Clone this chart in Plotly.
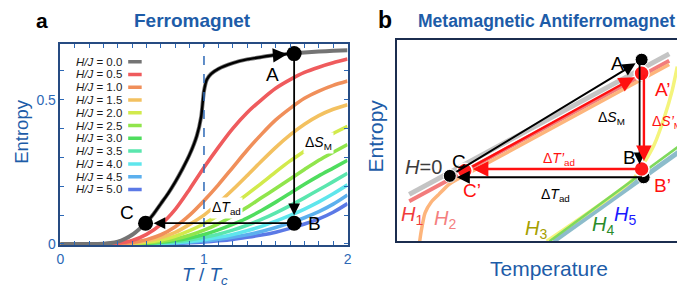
import plotly.graph_objects as go

FONT = "Liberation Sans, Arial, sans-serif"
W, H = 685, 289
BLUE = "#1d5ca8"
TICKBLUE = "#2c68b6"

# ---------------- Panel a: Ferromagnet ----------------
T_H0 = [0, 0.2, 0.3, 0.35, 0.4, 0.45, 0.5, 0.55, 0.6, 0.65,
        0.7, 0.75, 0.8, 0.85, 0.9, 0.95, 0.98, 1.0, 1.02, 1.05,
        1.1, 1.2, 1.3, 1.4, 1.5, 1.6, 1.7, 1.8, 1.9, 2.0]
S_H0 = [0, 0, 0.001, 0.003, 0.008, 0.018, 0.032, 0.052, 0.075, 0.105,
        0.14, 0.175, 0.215, 0.26, 0.31, 0.375, 0.44, 0.53, 0.57, 0.59,
        0.607, 0.627, 0.64, 0.648, 0.655, 0.66, 0.664, 0.667, 0.67, 0.672]

T_GRID = [0, 0.2, 0.3, 0.4, 0.5, 0.6, 0.7, 0.8, 0.9, 1.0,
          1.1, 1.2, 1.3, 1.4, 1.5, 1.6, 1.7, 1.8, 1.9, 2.0]
S_H05 = [0, 0, 0.0, 0.003, 0.012, 0.033, 0.068, 0.12, 0.19, 0.265,
         0.335, 0.4, 0.455, 0.5, 0.54, 0.57, 0.595, 0.613, 0.628, 0.641]
S_H10 = [0, 0, 0, 0.001, 0.005, 0.015, 0.032, 0.06, 0.1, 0.15,
         0.205, 0.265, 0.325, 0.38, 0.43, 0.47, 0.505, 0.53, 0.55, 0.565]
S_H15 = [0, 0, 0, 0, 0.003, 0.01, 0.022, 0.04, 0.068, 0.1,
         0.142, 0.188, 0.237, 0.287, 0.335, 0.378, 0.415, 0.445, 0.467, 0.483]
S_H20 = [0, 0, 0, 0, 0.002, 0.006, 0.014, 0.027, 0.046, 0.07,
         0.1, 0.135, 0.172, 0.21, 0.25, 0.288, 0.322, 0.355, 0.383, 0.408]
S_H25 = [0, 0, 0, 0, 0.001, 0.004, 0.009, 0.017, 0.03, 0.048,
         0.07, 0.097, 0.127, 0.16, 0.192, 0.225, 0.258, 0.29, 0.318, 0.345]
S_H30 = [0, 0, 0, 0, 0, 0.002, 0.006, 0.012, 0.021, 0.033,
         0.049, 0.068, 0.09, 0.116, 0.145, 0.176, 0.207, 0.236, 0.263, 0.29]
S_H35 = [0, 0, 0, 0, 0, 0.001, 0.004, 0.008, 0.014, 0.023,
         0.034, 0.048, 0.065, 0.085, 0.108, 0.133, 0.16, 0.188, 0.216, 0.245]
S_H40 = [0, 0, 0, 0, 0, 0, 0.002, 0.005, 0.009, 0.015,
         0.023, 0.033, 0.046, 0.061, 0.079, 0.099, 0.121, 0.146, 0.174, 0.205]
S_H45 = [0, 0, 0, 0, 0, 0, 0.001, 0.003, 0.006, 0.01,
         0.016, 0.023, 0.032, 0.043, 0.057, 0.073, 0.091, 0.112, 0.138, 0.17]
S_H50 = [0, 0, 0, 0, 0, 0, 0.001, 0.002, 0.004, 0.007,
         0.011, 0.016, 0.023, 0.031, 0.041, 0.054, 0.069, 0.087, 0.11, 0.14]

H_LABELS = ["0.0", "0.5", "1.0", "1.5", "2.0", "2.5", "3.0", "3.5", "4.0", "4.5", "5.0"]
H_COLORS = ["#747474", "#ef5b5d", "#f08f5a", "#f3c160", "#d2ea4c", "#90e54c",
            "#4fdd5e", "#5ae6ae", "#5fe6ec", "#5cb0ee", "#5b79e6"]
FIELD_CURVES = [S_H05, S_H10, S_H15, S_H20, S_H25, S_H30, S_H35, S_H40, S_H45, S_H50]

T_C = 1.0
CYCLE_NAMES = ["A", "B", "C"]
CYCLE_T = [1.628, 1.628, 0.593]
CYCLE_S = [0.660, 0.072, 0.072]

# ---------------- Panel b: Metamagnetic antiferromagnet (schematic units) ----------------
B_H0_X = [4.1, 94.5]
B_H0_Y = [23.3, 93.2]
B_H1_X = [4.1, 94.5]
B_H1_Y = [19.9, 89.8]
B_H2_X = [7.6, 8.3, 9.6, 11.7, 14.4, 18.2, 27.5, 94.5]
B_H2_Y = [-1.5, 5.3, 14.1, 19.4, 23.3, 28.6, 35.9, 87.9]
B_H3_X = [51.9, 81.8, 85.9, 89.3, 92.8, 95.5, 97.3]
B_H3_Y = [0.0, 30.6, 39.3, 48.1, 61.7, 74.8, 86.9]
B_H4_X = [52.9, 100.0]
B_H4_Y = [0.0, 49.5]
B_H5_X = [54.3, 100.0]
B_H5_Y = [0.0, 46.6]

B_BLACK_NAMES = ["A", "B", "C"]
B_BLACK_X = [84.9, 85.6, 18.2]
B_BLACK_Y = [90.3, 31.8, 32.5]
B_RED_NAMES = ["A’", "B’", "C’"]
B_RED_X = [84.9, 84.9, 23.4]
B_RED_Y = [83.5, 35.9, 35.0]

fig = go.Figure()

# ---- panel a curves ----
for S, col in reversed(list(zip(FIELD_CURVES, H_COLORS[1:]))):
    fig.add_trace(go.Scatter(x=T_GRID, y=S, mode="lines",
                             line=dict(color=col, width=3.6, shape="spline", smoothing=0.8),
                             xaxis="x", yaxis="y", showlegend=False, hoverinfo="skip"))
fig.add_trace(go.Scatter(x=T_H0, y=S_H0, mode="lines",
                         line=dict(color=H_COLORS[0], width=4, shape="spline", smoothing=0.6),
                         xaxis="x", yaxis="y", showlegend=False, hoverinfo="skip"))

# cycle path C -> A along H=0 curve
tA, tB, tC = CYCLE_T
sA, sB, sC = CYCLE_S
path_T = [tC] + [t for t in T_H0 if tC < t < tA] + [tA]
path_S = [sC] + [s for t, s in zip(T_H0, S_H0) if tC < t < tA] + [sA]
fig.add_trace(go.Scatter(x=path_T, y=path_S, mode="lines",
                         line=dict(color="black", width=2.4, shape="spline", smoothing=0.6),
                         xaxis="x", yaxis="y", showlegend=False, hoverinfo="skip"))
fig.add_trace(go.Scatter(x=CYCLE_T, y=CYCLE_S, mode="markers",
                         marker=dict(color="black", size=15),
                         xaxis="x", yaxis="y", showlegend=False, hoverinfo="skip"))

# ---- panel b curves ----
b_curves = [
    (B_H5_X, B_H5_Y, "#8dbccb", 5),
    (B_H3_X, B_H3_Y, "#f4f47c", 3.5),
    (B_H4_X, B_H4_Y, "#7fd95c", 2.5),
    (B_H0_X, B_H0_Y, "#c4c4c4", 5),
    (B_H1_X, B_H1_Y, "#f27c7c", 4),
    (B_H2_X, B_H2_Y, "#fdb57c", 3.5),
]
for xs, ys, col, w in b_curves:
    fig.add_trace(go.Scatter(x=xs, y=ys, mode="lines",
                             line=dict(color=col, width=w, shape="spline", smoothing=0.6),
                             xaxis="x2", yaxis="y2", showlegend=False, hoverinfo="skip"))
fig.add_trace(go.Scatter(x=B_BLACK_X, y=B_BLACK_Y, mode="markers",
                         marker=dict(color="black", size=13, line=dict(color="white", width=1)),
                         xaxis="x2", yaxis="y2", showlegend=False, hoverinfo="skip"))
fig.add_trace(go.Scatter(x=B_RED_X, y=B_RED_Y, mode="markers",
                         marker=dict(color="#ff1a1a", size=15, line=dict(color="white", width=1.5)),
                         xaxis="x2", yaxis="y2", showlegend=False, hoverinfo="skip"))

# ---------------- annotations ----------------
ann = []


def text_paper(t, xp, yp, size, color, angle=0, bold=False):
    if bold:
        t = "<b>" + t + "</b>"
    ann.append(dict(text=t, x=xp / W, y=1 - yp / H, xref="paper", yref="paper",
                    showarrow=False, textangle=angle, xanchor="center", yanchor="middle",
                    font=dict(family=FONT, size=size, color=color)))


def text_data(t, x, y, xr, yr, size, color, bg=None, anchor="center"):
    d = dict(text=t, x=x, y=y, xref=xr, yref=yr, showarrow=False,
             xanchor=anchor, yanchor="middle", font=dict(family=FONT, size=size, color=color))
    if bg:
        d.update(bgcolor=bg, borderpad=1)
    ann.append(d)


def arrow(x, y, ax, ay, xr, yr, color, width, standoff=0, startstandoff=0, size=1.3):
    ann.append(dict(text="", x=x, y=y, ax=ax, ay=ay, xref=xr, yref=yr, axref=xr, ayref=yr,
                    showarrow=True, arrowhead=2, arrowsize=size, arrowwidth=width,
                    arrowcolor=color, standoff=standoff, startstandoff=startstandoff))


# titles
text_paper("a", 30, 13, 21, "black", bold=True)
text_paper("Ferromagnet", 183, 13, 19, BLUE, bold=True)
text_paper("b", 377, 12, 23, "black", bold=True)
text_paper("Metamagnetic Antiferromagnet", 541, 13, 17.5, BLUE, bold=True)
text_paper("Entropy", 10, 126, 18.5, BLUE, angle=-90)
text_paper("<i>T</i> / <i>T</i><sub><i>c</i></sub>", 195, 275, 19, BLUE)
text_paper("Entropy", 368, 131, 21, BLUE, angle=-90)
text_paper("Temperature", 543, 267, 21, BLUE)

# panel a legend (text right-aligned, sample line to the right)
LEG_X_TEXT, LEG_X0, LEG_X1 = 0.442, 0.472, 0.566
LEG_Y0, LEG_DY = 0.632, 0.0443
shapes = []
for i, (lab, col) in enumerate(zip(H_LABELS, H_COLORS)):
    yy = LEG_Y0 - i * LEG_DY
    text_data("<i>H/J</i> = " + lab, LEG_X_TEXT, yy, "x", "y", 11.5, "#1a1a1a", anchor="right")
    shapes.append(dict(type="line", xref="x", yref="y", x0=LEG_X0, x1=LEG_X1, y0=yy, y1=yy,
                       line=dict(color=col, width=3.5)))

# T_c dashed line
shapes.append(dict(type="line", xref="x", yref="y domain", x0=T_C, x1=T_C, y0=0, y1=1,
                   line=dict(color=TICKBLUE, width=1.5, dash="dash")))

# panel a arrows
arrow(tA, sA, path_T[-3], path_S[-3], "x", "y", "black", 2.2, standoff=7)
arrow(tB, sB, tA, sA, "x", "y", "black", 1.8, standoff=8)
arrow(tC, sC, tB, sB, "x", "y", "black", 1.8, standoff=8)
text_data("A", 1.476, 0.589, "x", "y", 19, "black")
text_data("B", 1.77, 0.071, "x", "y", 19, "black")
text_data("C", 0.465, 0.11, "x", "y", 19, "black")
text_data("Δ<i>S</i><sub>M</sub>", 1.8, 0.35, "x", "y", 14, "black", bg="white")
text_data("Δ<i>T</i><sub>ad</sub>", 1.16, 0.125, "x", "y", 14, "black", bg="white")

# panel b arrows
aX, bX, cX = B_BLACK_X
aY, bY, cY = B_BLACK_Y
apX, bpX, cpX = B_RED_X
apY, bpY, cpY = B_RED_Y
arrow(aX, aY, cX, cY, "x2", "y2", "black", 2, standoff=7, startstandoff=6)
arrow(apX, apY, cpX, cpY, "x2", "y2", "#ff1010", 2.4, standoff=8, startstandoff=7)
arrow(aX - 0.7, bY + 6.5, aX - 0.7, aY, "x2", "y2", "black", 1.8, standoff=0)
arrow(apX + 0.8, bpY + 1.5, apX + 0.8, apY, "x2", "y2", "#ff1010", 2.4, standoff=5)
arrow(cpX, bpY, bpX, bpY, "x2", "y2", "#ff1010", 2.4, standoff=8)
arrow(cX, bY, bX, bY, "x2", "y2", "black", 2, standoff=7)

text_data("A", 76.6, 88.3, "x2", "y2", 19, "black")
text_data("A’", 92.2, 75.7, "x2", "y2", 19, "#ff1010")
text_data("B", 80.8, 41.7, "x2", "y2", 19, "black")
text_data("B’", 92.2, 27.7, "x2", "y2", 19, "#ff1010")
text_data("C", 21.3, 39.8, "x2", "y2", 19, "black")
text_data("C’", 26.0, 25.2, "x2", "y2", 19, "#ff1010")
text_data("Δ<i>S</i><sub>M</sub>", 74.6, 61.2, "x2", "y2", 14, "black")
text_data("Δ<i>S’</i><sub>M</sub>", 99.6, 59.2, "x2", "y2", 14, "#ff1010", anchor="right")
text_data("Δ<i>T’</i><sub>ad</sub>", 56.0, 40.8, "x2", "y2", 14, "#ff1010")
text_data("Δ<i>T</i><sub>ad</sub>", 55.0, 22.8, "x2", "y2", 14, "black")
text_data("<i>H</i>=0", 9.0, 36.9, "x2", "y2", 20, "#3c3c3c")
text_data("<i>H</i><sub>1</sub>", 5.2, 12.6, "x2", "y2", 20, "#f03c3c")
text_data("<i>H</i><sub>2</sub>", 16.5, 10.7, "x2", "y2", 20, "#f48080")
text_data("<i>H</i><sub>3</sub>", 48.3, 5.8, "x2", "y2", 20, "#a6a000")
text_data("<i>H</i><sub>4</sub>", 71.3, 7.8, "x2", "y2", 20, "#2a8c2a")
text_data("<i>H</i><sub>5</sub>", 79.2, 12.6, "x2", "y2", 20, "#1a1aff")

ticks_x = [round(0.1 * i, 1) for i in range(21)]
ticks_y = [round(0.1 * i, 1) for i in range(7)]
axis_a = dict(showline=True, mirror="ticks", linecolor="#264b82", linewidth=1.5,
              ticks="inside", ticklen=4, tickcolor=TICKBLUE, tickwidth=1,
              showgrid=False, zeroline=False,
              tickfont=dict(family=FONT, size=14, color=TICKBLUE))

fig.update_layout(
    width=W, height=H, margin=dict(l=0, r=0, t=0, b=0),
    paper_bgcolor="white", plot_bgcolor="white",
    xaxis=dict(domain=[49 / W, 339.5 / W], range=[0, 2], anchor="y",
               tickvals=ticks_x, ticktext=[str(int(v)) if v in (0, 1, 2) else "" for v in ticks_x],
               **axis_a),
    yaxis=dict(domain=[1 - 243 / H, 1 - 37 / H], range=[-0.004, 0.693], anchor="x",
               tickvals=ticks_y, ticktext=["0" if v == 0 else ("0.5" if v == 0.5 else "") for v in ticks_y],
               **axis_a),
    xaxis2=dict(domain=[390 / W, 681 / W], range=[0, 100], anchor="y2",
                showline=True, mirror=True, linecolor="#1b2d4f", linewidth=1.8,
                showticklabels=False, ticks="", showgrid=False, zeroline=False),
    yaxis2=dict(domain=[1 - 239 / H, 1 - 33 / H], range=[0, 100], anchor="x2",
                showline=True, mirror=True, linecolor="#1b2d4f", linewidth=1.8,
                showticklabels=False, ticks="", showgrid=False, zeroline=False),
    annotations=ann, shapes=shapes, showlegend=False,
)

fig.write_html("out.html")
